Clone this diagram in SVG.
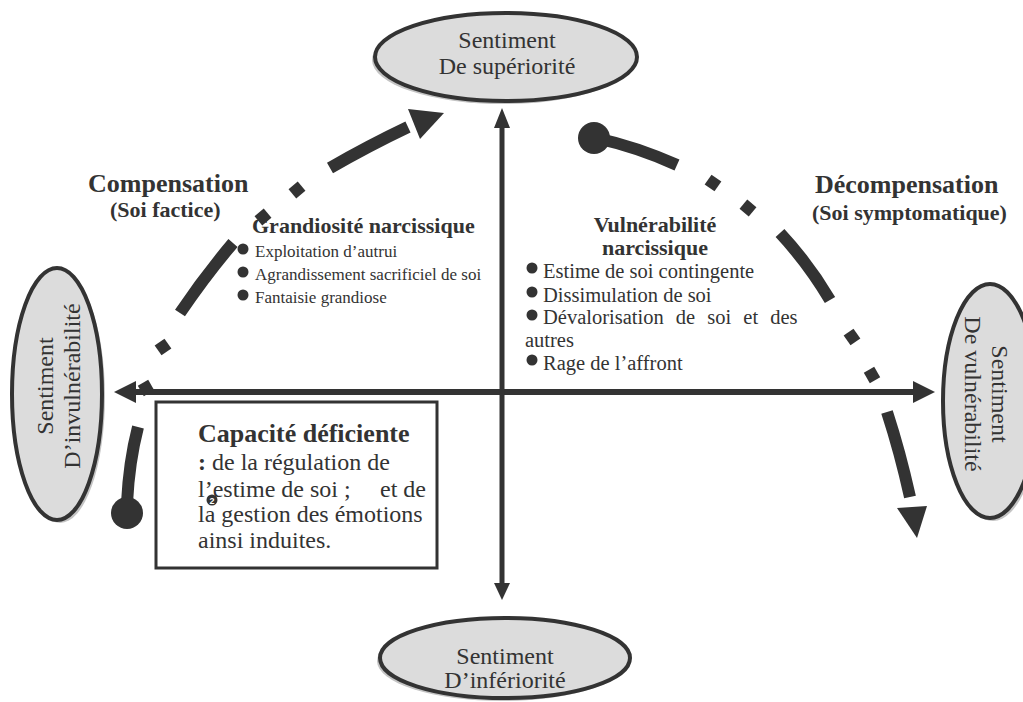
<svg xmlns="http://www.w3.org/2000/svg" width="1023" height="702" viewBox="0 0 1023 702">
<style>
.ell{fill:#dcdcdc;stroke:#333;stroke-width:4}
.sh{fill:#c4c4c4}
.t{font-family:"Liberation Serif","Times New Roman",serif;fill:#333}
.b{font-weight:bold}
.dash{fill:none;stroke:#333;stroke-width:12;stroke-linecap:butt}
.dk{fill:#333}
.ax{stroke:#333;stroke-width:6;fill:none}
</style>
<rect width="1023" height="702" fill="#fff"/>

<g id="arcs">
  <!-- left arc (Compensation) -->
  <rect class="dk" x="-6" y="-6" width="12" height="12" transform="translate(146,388) rotate(-30)"/>
  <path class="dash" d="M127,503 Q129,462 138,427"/>
  <circle class="dk" cx="127" cy="513" r="16"/>
  <rect class="dk" x="-6" y="-6" width="12" height="12" transform="translate(163,347) rotate(-35)"/>
  <path class="dash" d="M180,313 Q205,276 233,243"/>
  <rect class="dk" x="-6" y="-6" width="12" height="12" transform="translate(263,217) rotate(-40)"/>
  <rect class="dk" x="-6" y="-6" width="12" height="12" transform="translate(297,190) rotate(-40)"/>
  <path class="dash" d="M330,168 Q368,146 408,127"/>
  <polygon class="dk" points="408,109 444,113 420,139"/>
  <!-- right arc (Décompensation) -->
  <path class="dash" d="M596,138 Q637,147 677,165"/>
  <circle class="dk" cx="594" cy="138" r="16"/>
  <rect class="dk" x="-6" y="-6" width="12" height="12" transform="translate(713,183) rotate(35)"/>
  <rect class="dk" x="-6" y="-6" width="12" height="12" transform="translate(748,208) rotate(40)"/>
  <path class="dash" d="M780,233 Q808,263 830,300"/>
  <rect class="dk" x="-6" y="-6" width="12" height="12" transform="translate(852,337) rotate(55)"/>
  <rect class="dk" x="-6" y="-6" width="12" height="12" transform="translate(872,375) rotate(60)"/>
  <path class="dash" d="M887,412 Q900,452 910,497"/>
  <polygon class="dk" points="897,508 927,506 917,538"/>
</g>

<g id="axes">
  <line class="ax" x1="134" y1="392" x2="915" y2="392"/>
  <polygon class="dk" points="114,392 136,381 136,403"/>
  <polygon class="dk" points="935,392 913,381 913,403"/>
  <line class="ax" x1="502" y1="126" x2="502" y2="585" style="stroke-width:5"/>
  <polygon class="dk" points="502,108 494,128 510,128"/>
  <polygon class="dk" points="502,600 494,583 510,583"/>
</g>

<g id="node-superiorite">
  <ellipse class="sh" cx="503" cy="60" rx="131" ry="44"/>
  <ellipse class="ell" cx="506" cy="57" rx="131" ry="44"/>
  <text class="t" x="507" y="48" font-size="24" text-anchor="middle">Sentiment</text>
  <text class="t" x="507" y="74" font-size="24" text-anchor="middle">De supériorité</text>
</g>

<g id="node-inferiorite">
  <ellipse class="sh" cx="502" cy="661" rx="125" ry="40"/>
  <ellipse class="ell" cx="505" cy="658" rx="125" ry="40"/>
  <text class="t" x="505" y="664" font-size="24" text-anchor="middle">Sentiment</text>
  <text class="t" x="505" y="688" font-size="24" text-anchor="middle">D’infériorité</text>
</g>

<g id="node-invulnerabilite">
  <ellipse class="sh" cx="60" cy="397" rx="45" ry="126"/>
  <ellipse class="ell" cx="57" cy="394" rx="45" ry="126"/>
  <g transform="translate(57,394) rotate(-90)">
    <text class="t" x="8" y="-4" font-size="24" text-anchor="middle">Sentiment</text>
    <text class="t" x="8" y="23" font-size="24" text-anchor="middle">D’invulnérabilité</text>
  </g>
</g>

<g id="node-vulnerabilite">
  <ellipse class="sh" cx="993" cy="404" rx="47" ry="117"/>
  <ellipse class="ell" cx="990" cy="401" rx="47" ry="117"/>
  <g transform="translate(990,401) rotate(90)">
    <text class="t" x="-7" y="-2" font-size="24" text-anchor="middle">Sentiment</text>
    <text class="t" x="-7" y="25" font-size="24" text-anchor="middle">De vulnérabilité</text>
  </g>
</g>

<g id="label-compensation">
  <text class="t b" x="88" y="192" font-size="26">Compensation</text>
  <text class="t b" x="110" y="217" font-size="22">(Soi factice)</text>
</g>

<g id="label-decompensation">
  <text class="t b" x="815" y="193" font-size="26">Décompensation</text>
  <text class="t b" x="812" y="220" font-size="22">(Soi symptomatique)</text>
</g>

<g id="node-grandiosite">
  <text class="t b" x="252" y="233" font-size="22">Grandiosité narcissique</text>
  <circle class="dk" cx="243" cy="249" r="5.5"/>
  <circle class="dk" cx="243" cy="272" r="5.5"/>
  <circle class="dk" cx="243" cy="295" r="5.5"/>
  <text class="t" x="255" y="257" font-size="17">Exploitation d’autrui</text>
  <text class="t" x="255" y="280" font-size="17">Agrandissement sacrificiel de soi</text>
  <text class="t" x="255" y="303" font-size="17">Fantaisie grandiose</text>
</g>

<g id="node-vulnerabilite-narcissique">
  <text class="t b" x="655" y="232" font-size="22" text-anchor="middle">Vulnérabilité</text>
  <text class="t b" x="655" y="255" font-size="22" text-anchor="middle">narcissique</text>
  <circle class="dk" cx="532" cy="268" r="5.5"/>
  <circle class="dk" cx="532" cy="292" r="5.5"/>
  <circle class="dk" cx="532" cy="315" r="5.5"/>
  <circle class="dk" cx="532" cy="360" r="5.5"/>
  <text class="t" x="543" y="278" font-size="20.5">Estime de soi contingente</text>
  <text class="t" x="543" y="302" font-size="20.5">Dissimulation de soi</text>
  <text class="t" x="543" y="324" font-size="20.5" word-spacing="7">Dévalorisation de soi et des</text>
  <text class="t" x="525" y="347" font-size="20.5">autres</text>
  <text class="t" x="543" y="370" font-size="20.5">Rage de l’affront</text>
</g>

<g id="node-capacite">
  <rect x="156" y="402" width="281" height="166" fill="#fff" stroke="#333" stroke-width="3"/>
  <text class="t b" x="198" y="442" font-size="26">Capacité déficiente</text>
  <text class="t" x="198" y="470" font-size="24"><tspan font-weight="bold">:</tspan> de la régulation de</text>
  <text class="t" y="497" font-size="24"><tspan x="198">l’estime de soi ;</tspan><tspan x="380">et de</tspan></text>
  <circle class="dk" cx="212" cy="500" r="5.5"/>
  <text x="212" y="503.5" font-size="9" text-anchor="middle" fill="#fff" font-family="Liberation Sans, sans-serif" font-weight="bold">2</text>
  <text class="t" x="198" y="522" font-size="24">la gestion des émotions</text>
  <text class="t" x="198" y="548" font-size="24">ainsi induites.</text>
</g>
</svg>
